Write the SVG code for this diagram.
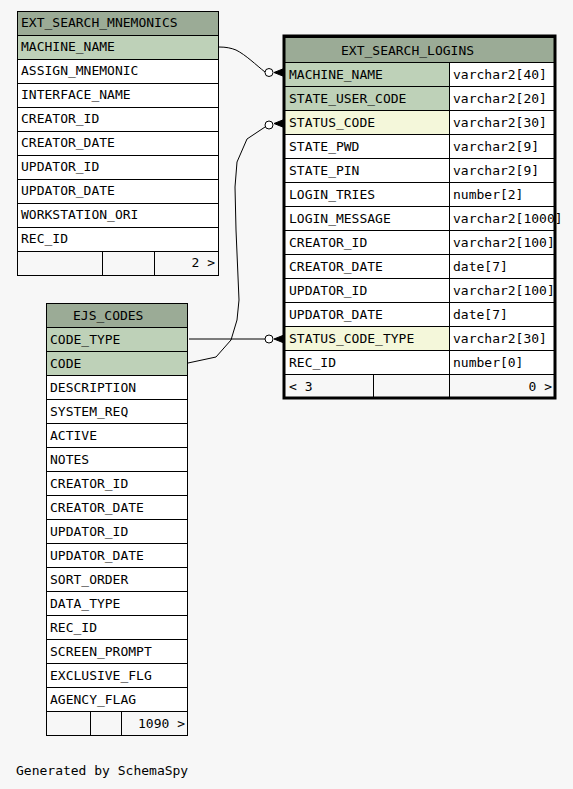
<svg xmlns="http://www.w3.org/2000/svg" width="573" height="789" viewBox="0 0 573 789">
<style>
text{font-family:"DejaVu Sans Mono","Liberation Mono",monospace;font-size:13px;fill:#000}
.c{stroke:#000;stroke-width:1;fill:#fff}
.h{stroke:#000;stroke-width:1;fill:#9bab96}
.pk{stroke:#000;stroke-width:1;fill:#bed1b8}
.ix{stroke:#000;stroke-width:1;fill:#f4f7da}
.f{stroke:#000;stroke-width:1;fill:#f7f7f7}
.e{fill:none;stroke:#000;stroke-width:1}
.o{fill:#fff;stroke:#000;stroke-width:1}
.cr{fill:#000;stroke:#000;stroke-width:1}
.r{text-anchor:end}
</style>
<rect x="0" y="0" width="573" height="789" fill="#f7f7f7"/>

<g id="connectors">
  <path class="e" d="M219,47 C226,47 231,48 236,50 C246,55 256,65 265,72"/>
  <circle class="o" cx="269" cy="72.5" r="4"/>
  <polygon class="cr" points="274,72.5 284,68.5 284,76.5"/>

  <path class="e" d="M188,363 L216,357 L231,340 L237,320 L239,300 L236,230 L235,187 L237,162 L247,139 L265,127"/>
  <circle class="o" cx="269" cy="125" r="4"/>
  <polygon class="cr" points="274,123.5 284,119.5 284,127.5"/>

  <path class="e" d="M189,339 L265,339"/>
  <circle class="o" cx="269" cy="339" r="4"/>
  <polygon class="cr" points="274,339 284,335 284,343"/>
</g>

<g id="EXT_SEARCH_MNEMONICS">
  <rect class="h" x="17.5" y="11.5" width="201" height="24"/>
  <text x="21" y="27">EXT_SEARCH_MNEMONICS</text>
  <rect class="pk" x="17.5" y="35.5" width="201" height="24"/>
  <text x="21" y="51">MACHINE_NAME</text>
  <rect class="c" x="17.5" y="59.5" width="201" height="24"/>
  <text x="21" y="75">ASSIGN_MNEMONIC</text>
  <rect class="c" x="17.5" y="83.5" width="201" height="24"/>
  <text x="21" y="99">INTERFACE_NAME</text>
  <rect class="c" x="17.5" y="107.5" width="201" height="24"/>
  <text x="21" y="123">CREATOR_ID</text>
  <rect class="c" x="17.5" y="131.5" width="201" height="24"/>
  <text x="21" y="147">CREATOR_DATE</text>
  <rect class="c" x="17.5" y="155.5" width="201" height="24"/>
  <text x="21" y="171">UPDATOR_ID</text>
  <rect class="c" x="17.5" y="179.5" width="201" height="24"/>
  <text x="21" y="195">UPDATOR_DATE</text>
  <rect class="c" x="17.5" y="203.5" width="201" height="24"/>
  <text x="21" y="219">WORKSTATION_ORI</text>
  <rect class="c" x="17.5" y="227.5" width="201" height="24"/>
  <text x="21" y="243">REC_ID</text>
  <rect class="f" x="17.5" y="251.5" width="85" height="24"/>
  <rect class="f" x="102.5" y="251.5" width="52" height="24"/>
  <rect class="f" x="154.5" y="251.5" width="64" height="24"/>
  <text class="r" x="215" y="267">2 &gt;</text>
</g>

<g id="EXT_SEARCH_LOGINS">
  <rect class="h" x="284.5" y="37.5" width="271" height="25"/>
  <text x="341" y="55">EXT_SEARCH_LOGINS</text>
  <rect class="pk" x="284.5" y="62.5" width="165" height="24"/><rect class="c" x="449.5" y="62.5" width="106" height="24"/>
  <text x="289" y="78.5">MACHINE_NAME</text><text x="453" y="78.5">varchar2[40]</text>
  <rect class="pk" x="284.5" y="86.5" width="165" height="24"/><rect class="c" x="449.5" y="86.5" width="106" height="24"/>
  <text x="289" y="102.5">STATE_USER_CODE</text><text x="453" y="102.5">varchar2[20]</text>
  <rect class="ix" x="284.5" y="110.5" width="165" height="24"/><rect class="c" x="449.5" y="110.5" width="106" height="24"/>
  <text x="289" y="126.5">STATUS_CODE</text><text x="453" y="126.5">varchar2[30]</text>
  <rect class="c" x="284.5" y="134.5" width="165" height="24"/><rect class="c" x="449.5" y="134.5" width="106" height="24"/>
  <text x="289" y="150.5">STATE_PWD</text><text x="453" y="150.5">varchar2[9]</text>
  <rect class="c" x="284.5" y="158.5" width="165" height="24"/><rect class="c" x="449.5" y="158.5" width="106" height="24"/>
  <text x="289" y="174.5">STATE_PIN</text><text x="453" y="174.5">varchar2[9]</text>
  <rect class="c" x="284.5" y="182.5" width="165" height="24"/><rect class="c" x="449.5" y="182.5" width="106" height="24"/>
  <text x="289" y="198.5">LOGIN_TRIES</text><text x="453" y="198.5">number[2]</text>
  <rect class="c" x="284.5" y="206.5" width="165" height="24"/><rect class="c" x="449.5" y="206.5" width="106" height="24"/>
  <text x="289" y="222.5">LOGIN_MESSAGE</text><text x="453" y="222.5">varchar2[1000]</text>
  <rect class="c" x="284.5" y="230.5" width="165" height="24"/><rect class="c" x="449.5" y="230.5" width="106" height="24"/>
  <text x="289" y="246.5">CREATOR_ID</text><text x="453" y="246.5">varchar2[100]</text>
  <rect class="c" x="284.5" y="254.5" width="165" height="24"/><rect class="c" x="449.5" y="254.5" width="106" height="24"/>
  <text x="289" y="270.5">CREATOR_DATE</text><text x="453" y="270.5">date[7]</text>
  <rect class="c" x="284.5" y="278.5" width="165" height="24"/><rect class="c" x="449.5" y="278.5" width="106" height="24"/>
  <text x="289" y="294.5">UPDATOR_ID</text><text x="453" y="294.5">varchar2[100]</text>
  <rect class="c" x="284.5" y="302.5" width="165" height="24"/><rect class="c" x="449.5" y="302.5" width="106" height="24"/>
  <text x="289" y="318.5">UPDATOR_DATE</text><text x="453" y="318.5">date[7]</text>
  <rect class="ix" x="284.5" y="326.5" width="165" height="24"/><rect class="c" x="449.5" y="326.5" width="106" height="24"/>
  <text x="289" y="342.5">STATUS_CODE_TYPE</text><text x="453" y="342.5">varchar2[30]</text>
  <rect class="c" x="284.5" y="350.5" width="165" height="24"/><rect class="c" x="449.5" y="350.5" width="106" height="24"/>
  <text x="289" y="366.5">REC_ID</text><text x="453" y="366.5">number[0]</text>
  <rect class="f" x="284.5" y="374.5" width="89" height="24"/>
  <rect class="f" x="373.5" y="374.5" width="76" height="24"/>
  <rect class="f" x="449.5" y="374.5" width="106" height="24"/>
  <text x="289" y="390.5">&lt; 3</text>
  <text class="r" x="552" y="390.5">0 &gt;</text>
  <rect x="284" y="36" width="271" height="362" fill="none" stroke="#000" stroke-width="3"/>
</g>

<g id="EJS_CODES">
  <rect class="h" x="46.5" y="303.5" width="141" height="24"/>
  <text x="73" y="319.5">EJS_CODES</text>
  <rect class="pk" x="46.5" y="327.5" width="141" height="24"/>
  <text x="50" y="343.5">CODE_TYPE</text>
  <rect class="pk" x="46.5" y="351.5" width="141" height="24"/>
  <text x="50" y="367.5">CODE</text>
  <rect class="c" x="46.5" y="375.5" width="141" height="24"/>
  <text x="50" y="391.5">DESCRIPTION</text>
  <rect class="c" x="46.5" y="399.5" width="141" height="24"/>
  <text x="50" y="415.5">SYSTEM_REQ</text>
  <rect class="c" x="46.5" y="423.5" width="141" height="24"/>
  <text x="50" y="439.5">ACTIVE</text>
  <rect class="c" x="46.5" y="447.5" width="141" height="24"/>
  <text x="50" y="463.5">NOTES</text>
  <rect class="c" x="46.5" y="471.5" width="141" height="24"/>
  <text x="50" y="487.5">CREATOR_ID</text>
  <rect class="c" x="46.5" y="495.5" width="141" height="24"/>
  <text x="50" y="511.5">CREATOR_DATE</text>
  <rect class="c" x="46.5" y="519.5" width="141" height="24"/>
  <text x="50" y="535.5">UPDATOR_ID</text>
  <rect class="c" x="46.5" y="543.5" width="141" height="24"/>
  <text x="50" y="559.5">UPDATOR_DATE</text>
  <rect class="c" x="46.5" y="567.5" width="141" height="24"/>
  <text x="50" y="583.5">SORT_ORDER</text>
  <rect class="c" x="46.5" y="591.5" width="141" height="24"/>
  <text x="50" y="607.5">DATA_TYPE</text>
  <rect class="c" x="46.5" y="615.5" width="141" height="24"/>
  <text x="50" y="631.5">REC_ID</text>
  <rect class="c" x="46.5" y="639.5" width="141" height="24"/>
  <text x="50" y="655.5">SCREEN_PROMPT</text>
  <rect class="c" x="46.5" y="663.5" width="141" height="24"/>
  <text x="50" y="679.5">EXCLUSIVE_FLG</text>
  <rect class="c" x="46.5" y="687.5" width="141" height="24"/>
  <text x="50" y="703.5">AGENCY_FLAG</text>
  <rect class="f" x="46.5" y="711.5" width="44" height="24"/>
  <rect class="f" x="90.5" y="711.5" width="31" height="24"/>
  <rect class="f" x="121.5" y="711.5" width="66" height="24"/>
  <text class="r" x="185" y="727.5">1090 &gt;</text>
</g>

<text x="16" y="775">Generated by SchemaSpy</text>
</svg>
